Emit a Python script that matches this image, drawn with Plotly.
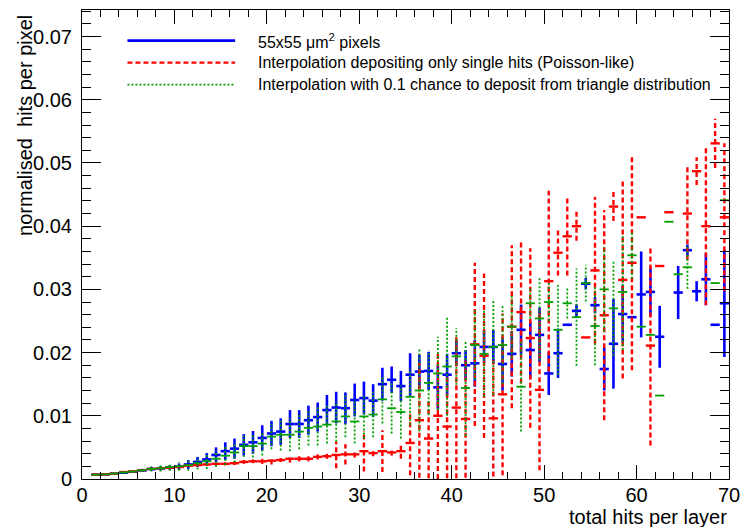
import plotly.graph_objects as go

# ---------------- data ----------------
bin_low = list(range(1, 70))  # bins [n, n+1), n = 1..69

pixels_55 = [0.00068, 0.00073, 0.00084, 0.00100, 0.00116, 0.00136, 0.00158, 0.00168, 0.00182, 0.00195,
             0.00230, 0.00270, 0.00310, 0.00380, 0.00440, 0.00480, 0.00540, 0.00580, 0.00650, 0.00720,
             0.00750, 0.00870, 0.00870, 0.00930, 0.00980, 0.01090, 0.01130, 0.01120, 0.01250, 0.01280,
             0.01240, 0.01500, 0.01570, 0.01470, 0.01650, 0.01700, 0.01710, 0.01450, 0.01650, 0.01990,
             0.01800, 0.01830, 0.02090, 0.02090, 0.01820, 0.01980, 0.02360, 0.02040, 0.02280, 0.01670,
             0.01990, 0.02440, 0.02660, 0.03090, 0.02750, 0.01740, 0.02140, 0.02610, 0.02560, 0.02920,
             0.02960, 0.02250, None, 0.02950, 0.03620, 0.02970, 0.03160, 0.02440, 0.02780]
pixels_55_err = [0.00008, 0.0001, 0.00012, 0.00015, 0.0002, 0.00025, 0.0003, 0.00035, 0.0004, 0.0005,
                 0.0007, 0.0008, 0.001, 0.0012, 0.0014, 0.0016, 0.0017, 0.0018, 0.002, 0.002,
                 0.0021, 0.0022, 0.0022, 0.0023, 0.0023, 0.0024, 0.0025, 0.0025, 0.0026, 0.0026,
                 0.0026, 0.0026, 0.0021, 0.0024, 0.0034, 0.0027, 0.003, 0.0035, 0.0033, 0.002,
                 0.0024, 0.0037, 0.0025, 0.0027, 0.0042, 0.0036, 0.004, 0.0045, 0.0043, 0.0034,
                 0.0039, 0.0, 0.001, 0.0009, 0.0013, 0.0034, 0.0071, 0.0045, 0.0, 0.0068,
                 0.0039, 0.0049, 0.0, 0.0042, 0.0009, 0.0016, 0.0041, 0.0, 0.0085]

poisson = [0.00068, 0.00073, 0.00084, 0.0011, 0.0012, 0.0014, 0.0016, 0.0017, 0.0018, 0.0019,
           0.0021, 0.0022, 0.0023, 0.0024, 0.0024, 0.0025, 0.0027, 0.0028, 0.0028, 0.0029,
           0.0030, 0.0032, 0.0032, 0.0032, 0.0035, 0.0036, 0.0038, 0.0039, 0.0039, 0.0044,
           0.0041, 0.0044, 0.0042, 0.0044, 0.0057, 0.0093, 0.0064, 0.0100, 0.0083, 0.0113,
           0.0095, 0.0213, 0.0195, 0.0096, 0.0134, 0.0241, 0.0264, 0.0223, 0.0141, 0.0313,
           0.0358, 0.0384, 0.0400, 0.0224, 0.0330, 0.0259, 0.0431, 0.0315, 0.0342, 0.0414,
           0.0211, 0.0337, 0.0422, None, 0.0420, 0.0487, 0.0400, 0.0531, 0.0414]
poisson_err = [0.0001, 0.0001, 0.0001, 0.0001, 0.00012, 0.00014, 0.00015, 0.00016, 0.00017, 0.00018,
               0.0002, 0.0002, 0.0002, 0.00025, 0.00025, 0.0003, 0.0003, 0.0003, 0.0004, 0.0006,
               0.0003, 0.0006, 0.0004, 0.0004, 0.0004, 0.0004, 0.0021, 0.0016, 0.0005, 0.0032,
               0.0005, 0.0033, 0.0005, 0.0012, 0.0051, 0.0091, 0.0063, 0.0100, 0.0082, 0.0112,
               0.0093, 0.0129, 0.0130, 0.0092, 0.0128, 0.0129, 0.0113, 0.0142, 0.0127, 0.0143,
               0.0036, 0.0062, 0.0023, 0.0, 0.0116, 0.0166, 0.0023, 0.0156, 0.0170, 0.0,
               0.0158, 0.0, 0.0, 0.0, 0.0074, 0.0022, 0.0125, 0.0039, 0.0117]

triangle = [0.00068, 0.00073, 0.00086, 0.00105, 0.0012, 0.0014, 0.0016, 0.0017, 0.0019, 0.0020,
            0.0022, 0.0025, 0.0028, 0.0032, 0.0037, 0.0042, 0.0052, 0.0052, 0.0056, 0.0067,
            0.0070, 0.0070, 0.0075, 0.0081, 0.0083, 0.0086, 0.0091, 0.0099, 0.0091, 0.0099,
            0.0102, 0.0126, 0.0112, 0.0106, 0.0130, 0.0140, 0.0152, 0.0167, 0.0178, 0.0194,
            0.0144, 0.0212, 0.0198, 0.0209, 0.0212, 0.0241, 0.0146, 0.0278, 0.0254, 0.0280,
            0.0236, 0.0278, 0.0256, 0.0310, 0.0242, 0.0300, 0.0270, 0.0296, 0.0354, 0.0241,
            0.0228, 0.0132, 0.0407, 0.0324, 0.0335, None, None, 0.0310, 0.0441]
triangle_err = [0.0001, 0.0001, 0.00015, 0.0002, 0.00025, 0.0003, 0.0004, 0.0005, 0.0006, 0.0007,
                0.0009, 0.001, 0.0012, 0.0013, 0.0015, 0.0016, 0.0017, 0.0018, 0.0019, 0.002,
                0.0025, 0.0026, 0.0028, 0.0028, 0.003, 0.003, 0.0032, 0.0033, 0.0035, 0.0035,
                0.0036, 0.0038, 0.004, 0.0042, 0.0045, 0.0065, 0.0051, 0.0058, 0.0078, 0.0045,
                0.0076, 0.0055, 0.0068, 0.0076, 0.0062, 0.005, 0.0071, 0.0024, 0.0066, 0.003,
                0.0071, 0.0024, 0.0077, 0.0029, 0.0062, 0.0067, 0.0075, 0.0092, 0.0037, 0.0,
                0.0, 0.0, 0.0, 0.0, 0.0034, 0.0, 0.0, 0.0, 0.0]

legend_labels = ["55x55 \u03bcm<sup>2</sup> pixels",
                 "Interpolation depositing only single hits (Poisson-like)",
                 "Interpolation with 0.1 chance to deposit from triangle distribution"]

x_title = "total hits per layer"
y_title = "normalised\u00a0 hits per pixel"

# ---------------- styles ----------------
FONT = "Liberation Sans, Arial, Helvetica, sans-serif"
styles = [
    dict(color="#0000ff", width=2.6, dash="solid"),
    dict(color="#ff0000", width=2.4, dash="5px,3px"),
    dict(color="#00a000", width=1.8, dash="2px,2px"),
]


def segments(lows, vals, errs):
    vx, vy, hx, hy = [], [], [], []
    for lo, v, e in zip(lows, vals, errs):
        if v is None:
            continue
        c = lo + 0.5
        if e and e > 0:
            vx += [c, c, None]
            vy += [v - e, v + e, None]
        hx += [lo, lo + 1, None]
        hy += [v, v, None]
    return vx, vy, hx, hy


fig = go.Figure()
for (vals, errs), st, name in zip([(pixels_55, pixels_55_err), (poisson, poisson_err), (triangle, triangle_err)],
                                  styles, legend_labels):
    vx, vy, hx, hy = segments(bin_low, vals, errs)
    fig.add_trace(go.Scatter(x=vx, y=vy, mode="lines", line=dict(color=st["color"], width=st["width"], dash=st["dash"]),
                             showlegend=False, hoverinfo="skip", connectgaps=False))
    fig.add_trace(go.Scatter(x=hx, y=hy, mode="lines", line=dict(color=st["color"], width=st["width"]),
                             showlegend=False, hoverinfo="skip", connectgaps=False))

# manual legend (ROOT-style long line samples)
L, R, T, B = 82, 737, 9.3, 479.3
W, H = R - L, B - T


def px(xp):
    return (xp - L) / W


def py(yp):
    return (B - yp) / H


for i, (st, lab) in enumerate(zip(styles, legend_labels)):
    yy = py(40 + 22 * i)
    fig.add_shape(type="line", xref="paper", yref="paper", x0=px(128), x1=px(237), y0=yy, y1=yy,
                  line=dict(color=st["color"], width=st["width"], dash=st["dash"]))
    fig.add_annotation(xref="paper", yref="paper", x=px(258), y=yy, text=lab, showarrow=False,
                       xanchor="left", yanchor="middle", font=dict(family=FONT, size=16, color="black"))

fig.add_annotation(xref="paper", yref="paper", x=1.0, y=py(517), text=x_title, showarrow=False,
                   xanchor="right", yanchor="middle", font=dict(family=FONT, size=20, color="black"))
fig.add_annotation(xref="paper", yref="paper", x=px(24), y=py(12), text=y_title, showarrow=False,
                   textangle=-90, xanchor="center", yanchor="top", font=dict(family=FONT, size=20, color="black"))

axis_common = dict(showline=True, linecolor="black", linewidth=1, mirror="ticks", ticks="inside",
                   showgrid=False, zeroline=False, tickcolor="black",
                   tickfont=dict(family=FONT, size=20, color="black"))
fig.update_xaxes(range=[0, 70], dtick=10, tick0=0, ticklen=14, ticklabelstandoff=-2,
                 minor=dict(dtick=2, ticklen=7, ticks="inside", tickcolor="black", showgrid=False),
                 **axis_common)
fig.update_yaxes(range=[0, 0.0742], dtick=0.01, tick0=0, ticklen=19, ticklabelstandoff=5,
                 minor=dict(dtick=0.002, ticklen=9, ticks="inside", tickcolor="black", showgrid=False),
                 **axis_common)

fig.update_layout(width=749, height=527, margin=dict(l=L, r=749 - R, t=T, b=527 - B),
                  paper_bgcolor="white", plot_bgcolor="white", showlegend=False,
                  font=dict(family=FONT, color="black"))

fig.write_html("out.html")
